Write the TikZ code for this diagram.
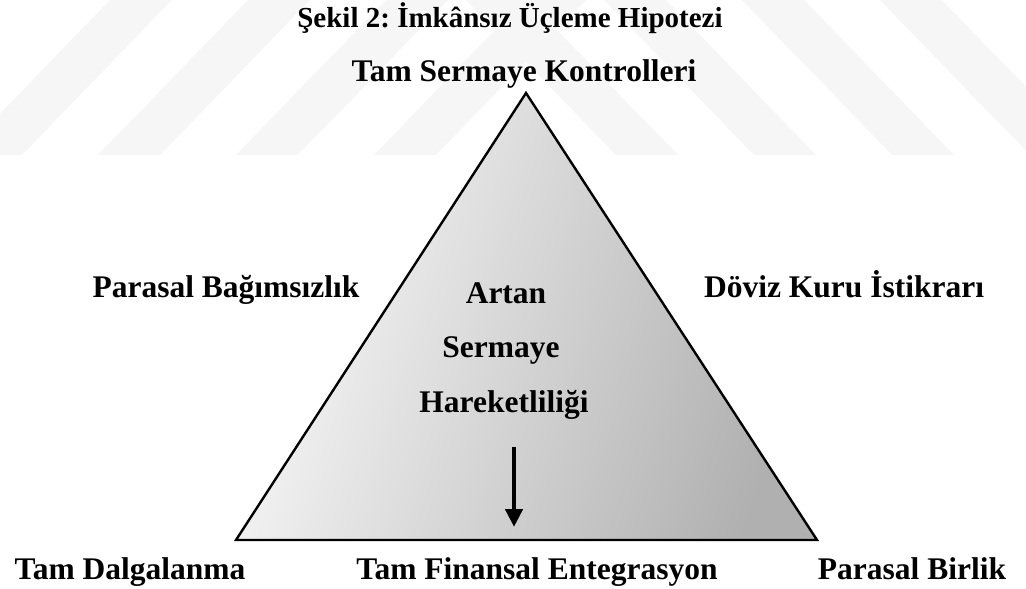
\documentclass[tikz,border=0pt]{standalone}
\usepackage{fontspec}
\setmainfont{Liberation Serif}
\frenchspacing
\usetikzlibrary{arrows.meta, positioning}

\begin{document}
\begin{tikzpicture}[x=0.5pt, y=-0.5pt, thick]
  \tikzstyle{lbl} = [font=\fontsize{15.75pt}{19pt}\selectfont\bfseries, inner sep=0pt, anchor=base]
  \tikzstyle{stripe} = [fill=gray!7, draw=none]

  \useasboundingbox (0,0) rectangle (1026,588);

  % faint watermark bands
  \foreach \b/\c in {-40/1030, 98/892, 236/754, 374/616} {
    \path[stripe] (\b,155) -- (\b+62,155) -- (\b+212,0) -- (\b+150,0) -- cycle;
    \path[stripe] (\c,155) -- (\c+62,155) -- (\c-88,0) -- (\c-150,0) -- cycle;
  }

  \node[lbl, font=\fontsize{14.5pt}{17pt}\selectfont\bfseries] (title) at (510,28) {Şekil 2: İmkânsız Üçleme Hipotezi};

  % triangle
  \coordinate (apex) at (526,93);
  \coordinate (bl) at (236,540);
  \coordinate (br) at (817,540);
  \shade[top color=gray!4, bottom color=gray!62, shading angle=72] (apex) -- (bl) -- (br) -- cycle;
  \draw[line width=1.2pt] (apex) -- (bl) -- (br) -- cycle;

  \node[lbl] (ctrl) at (524,82) {Tam Sermaye Kontrolleri};
  \node[lbl] (bagimsiz) at (226,297) {Parasal Bağımsızlık};
  \node[lbl] (istikrar) at (844,297) {Döviz Kuru İstikrarı};
  \node[lbl] (artan) at (506,303) {Artan};
  \node[lbl] (sermaye) at (501,357) {Sermaye};
  \node[lbl] (hareket) at (504,412) {Hareketliliği};
  \node[lbl] (dalga) at (130,579) {Tam Dalgalanma};
  \node[lbl] (entegr) at (537,579) {Tam Finansal Entegrasyon};
  \node[lbl] (birlik) at (912,579) {Parasal Birlik};

  % arrow
  \coordinate (arrtop) at (514,447);
  \coordinate (arrtip) at (514,527);
  \draw[line width=2.25pt, -{Triangle[length=9pt, width=8.5pt]}] (arrtop) -- (arrtip);
\end{tikzpicture}
\end{document}
